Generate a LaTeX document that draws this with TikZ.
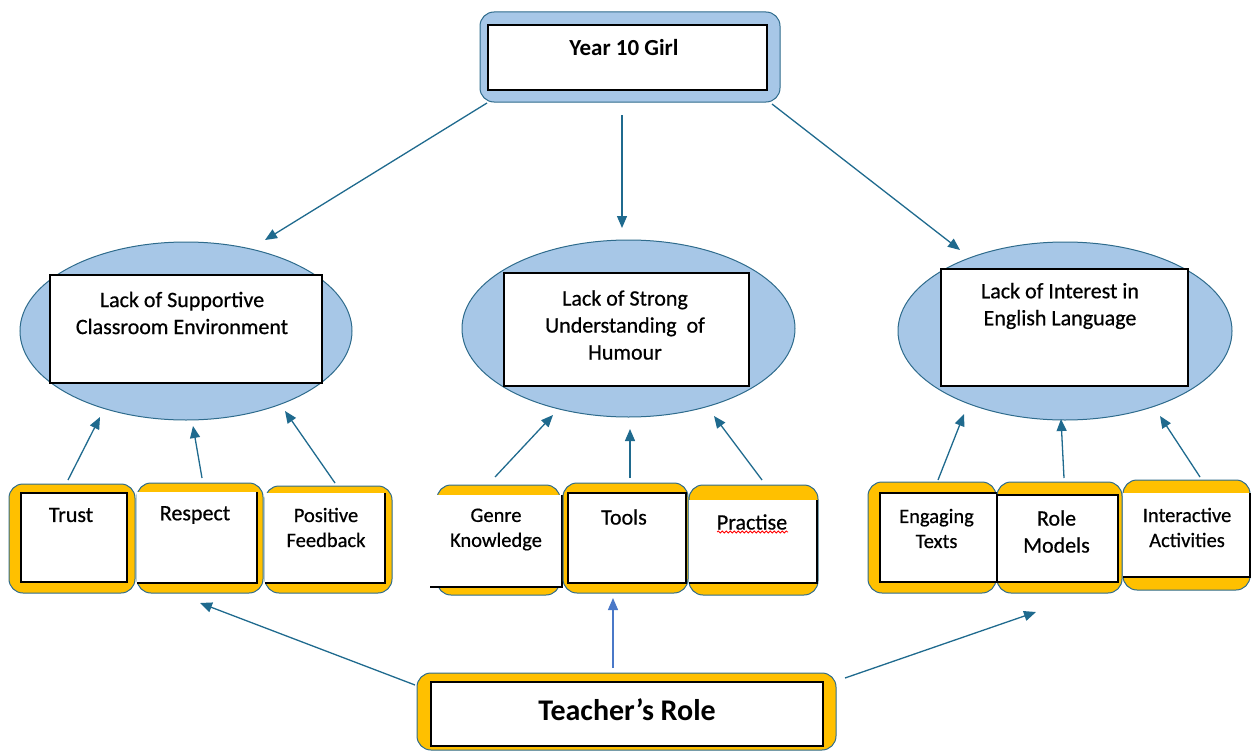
\documentclass[tikz,border=0pt]{standalone}
\usepackage{fontspec}
\setmainfont{Carlito}
\newfontfamily\semib{Carlito}[FakeBold=0.6]
\usetikzlibrary{shapes.geometric,arrows.meta,decorations.pathmorphing}
\definecolor{lb}{HTML}{A7C7E7}
\definecolor{gold}{HTML}{FFC000}
\definecolor{edgec}{HTML}{2E6B8C}
\definecolor{arr}{HTML}{1F6A8E}
\definecolor{arrb}{HTML}{4A78C8}
\begin{document}
\begin{tikzpicture}[x=1pt,y=-1pt,
  ell/.style={ellipse,draw=edgec,line width=1pt,fill=lb,inner sep=0pt},
  outerblue/.style={rectangle,rounded corners=14pt,draw=edgec,line width=1pt,fill=lb,inner sep=0pt},
  outergold/.style={rectangle,rounded corners=14pt,draw=edgec,line width=1pt,fill=gold,inner sep=0pt},
  inbox/.style={rectangle,draw=black,line width=1.8pt,fill=white,inner sep=0pt},
  inwhite/.style={rectangle,fill=white,inner sep=0pt},
  blk/.style={draw=black,line width=1.8pt},
  lbl/.style={inner sep=0pt,align=center,font=\semib\fontsize{22}{27}\selectfont},
  slbl/.style={inner sep=0pt,align=center,font=\semib\fontsize{20.5}{25}\selectfont},
  arrow/.style={draw=arr,line width=1.3pt,-{Triangle[length=12pt,width=10pt]}},
  arrowb/.style={draw=arrb,line width=1.3pt,-{Triangle[length=12pt,width=10pt]}}
]
\useasboundingbox (0,0) rectangle (1255,752);

% ---- top
\node[outerblue,minimum width=300,minimum height=90] (topo) at (630,57) {};
\node[inbox,minimum width=279,minimum height=65] (topi) at (627.5,57.5) {};
\node[inner sep=0pt,font=\fontsize{23}{27}\selectfont\bfseries] (toptext) at (624,48) {Year 10 Girl};

% ---- ellipses
\node[ell,minimum width=332,minimum height=178] (e1) at (186,331) {};
\node[inbox,minimum width=272,minimum height=108] (r1) at (186,329) {};
\node[lbl] (t1) at (182,313) {Lack of Supportive\\Classroom Environment};

\node[ell,minimum width=333,minimum height=177] (e2) at (628.5,328.5) {};
\node[inbox,minimum width=245,minimum height=113] (r2) at (626.5,329.5) {};
\node[lbl] (t2) at (625,325) {Lack of Strong\\Understanding\ \ of\\Humour};

\node[ell,minimum width=334,minimum height=178] (e3) at (1065,331) {};
\node[inbox,minimum width=247,minimum height=117] (r3) at (1064.5,327.5) {};
\node[lbl] (t3) at (1060,306) {Lack of Interest in\\English Language};

% ---- bottom left group
\node[outergold,minimum width=126,minimum height=109] (b1o) at (72,538.5) {};
\node[inbox,minimum width=106,minimum height=89] (b1i) at (74,537.5) {};
\node[lbl] (b1t) at (71,515) {Trust};

\node[outergold,minimum width=126,minimum height=110] (b2o) at (200,538) {};
\node[inwhite,minimum width=120,minimum height=91] (b2i) at (197,537.5) {};
\draw[blk] (b2i.north east) -- (b2i.south east) -- (b2i.south west);
\node[lbl] (b2t) at (195,515) {Respect};

\node[outergold,minimum width=127,minimum height=107] (b3o) at (328.5,539.5) {};
\node[inwhite,minimum width=120,minimum height=90] (b3i) at (325,538) {};
\draw[blk] (b3i.north east) -- (b3i.south east) -- (b3i.south west);
\node[slbl] (b3t) at (326,527.5) {Positive\\Feedback};

% ---- bottom middle group
\node[outergold,minimum width=123,minimum height=110] (b4o) at (498.5,540) {};
\node[inwhite,minimum width=132,minimum height=92] (b4i) at (496,541) {};
\draw[blk] (b4i.north east) -- (b4i.south east) -- (b4i.south west);
\node[slbl] (b4t) at (496,529.5) {Genre\\Knowledge};

\node[outergold,minimum width=125,minimum height=110] (b5o) at (625.5,538) {};
\node[inbox,minimum width=118,minimum height=90] (b5i) at (627,538) {};
\node[lbl] (b5t) at (624,517) {Tools};

\node[outergold,minimum width=129,minimum height=110] (b6o) at (753.5,540) {};
\node[inwhite,minimum width=128,minimum height=83] (b6i) at (753,541.5) {};
\draw[blk] (b6i.north east) -- (b6i.south east) -- (b6i.south west);
\node[lbl] (b6t) at (752,522) {Practise};
\coordinate (sq1) at (717,532);
\coordinate (sq2) at (788,532);
\draw[red,line width=0.8pt,decorate,decoration={snake,amplitude=1pt,segment length=4pt}] (sq1) -- (sq2);

% ---- bottom right group
\node[outergold,minimum width=128,minimum height=111] (b7o) at (932,537.5) {};
\node[inbox,minimum width=117,minimum height=89] (b7i) at (938.5,537.5) {};
\node[slbl] (b7t) at (936.5,528.5) {Engaging\\Texts};

\node[outergold,minimum width=125,minimum height=111] (b8o) at (1059.5,537.5) {};
\node[inbox,minimum width=121,minimum height=87] (b8i) at (1057.5,538.5) {};
\node[lbl] (b8t) at (1056.5,531.5) {Role\\Models};

\node[outergold,minimum width=127,minimum height=110] (b9o) at (1186.5,535) {};
\node[inwhite,minimum width=127,minimum height=84] (b9i) at (1186.5,535) {};
\draw[blk] (b9i.north east) -- (b9i.south east) -- (b9i.south west);
\node[slbl] (b9t) at (1187,527.5) {Interactive\\Activities};

% ---- teacher
\node[outergold,minimum width=419,minimum height=77] (teo) at (626.5,711.5) {};
\node[inbox,minimum width=392,minimum height=64] (tei) at (627,714) {};
\node[inner sep=0pt,font=\fontsize{30}{34}\selectfont\bfseries] (tet) at (627,710) {Teacher's Role};

% ---- arrow end points
\coordinate (a1s) at (487,103);  \coordinate (a1e) at (265,240);
\coordinate (a2s) at (622,115);  \coordinate (a2e) at (622,228);
\coordinate (a3s) at (772,104);  \coordinate (a3e) at (960,250);
\coordinate (u1s) at (68,480);   \coordinate (u1e) at (100,417);
\coordinate (u2s) at (202,478);  \coordinate (u2e) at (193,426);
\coordinate (u3s) at (335,483);  \coordinate (u3e) at (285,411);
\coordinate (u4s) at (495,477);  \coordinate (u4e) at (553,415);
\coordinate (u5s) at (630,478);  \coordinate (u5e) at (630,429);
\coordinate (u6s) at (762,480);  \coordinate (u6e) at (714,416);
\coordinate (u7s) at (938,480);  \coordinate (u7e) at (964,414);
\coordinate (u8s) at (1064,478); \coordinate (u8e) at (1061,419);
\coordinate (u9s) at (1200,477); \coordinate (u9e) at (1160,416);
\coordinate (d1s) at (415,685);  \coordinate (d1e) at (200,603);
\coordinate (d2s) at (613,668);  \coordinate (d2e) at (613,598);
\coordinate (d3s) at (845,678);  \coordinate (d3e) at (1036,612);

\draw[arrow] (a1s) -- (a1e);
\draw[arrow] (a2s) -- (a2e);
\draw[arrow] (a3s) -- (a3e);
\draw[arrow] (u1s) -- (u1e);
\draw[arrow] (u2s) -- (u2e);
\draw[arrow] (u3s) -- (u3e);
\draw[arrow] (u4s) -- (u4e);
\draw[arrow] (u5s) -- (u5e);
\draw[arrow] (u6s) -- (u6e);
\draw[arrow] (u7s) -- (u7e);
\draw[arrow] (u8s) -- (u8e);
\draw[arrow] (u9s) -- (u9e);
\draw[arrow] (d1s) -- (d1e);
\draw[arrowb] (d2s) -- (d2e);
\draw[arrow] (d3s) -- (d3e);
\end{tikzpicture}
\end{document}
